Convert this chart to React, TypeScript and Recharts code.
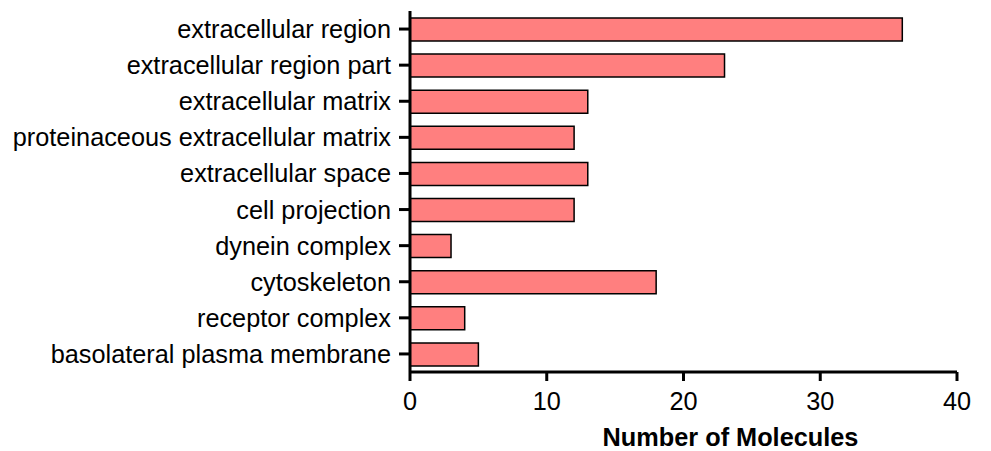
import React from "react";
import { BarChart, Bar, XAxis, YAxis, Label } from "recharts";

// GO cellular-component terms and the number of molecules annotated to each
const categories = [
  "extracellular region",
  "extracellular region part",
  "extracellular matrix",
  "proteinaceous extracellular matrix",
  "extracellular space",
  "cell projection",
  "dynein complex",
  "cytoskeleton",
  "receptor complex",
  "basolateral plasma membrane",
];
const moleculeCounts = [36, 23, 13, 12, 13, 12, 3, 18, 4, 5];
const xTicks = [0, 10, 20, 30, 40];
const xTitle = "Number of Molecules";

const data = categories.map((name, i) => ({ name, count: moleculeCounts[i] }));

const FONT = '"Liberation Sans", Arial, Helvetica, sans-serif';
const FONT_SIZE = 25.3;

export default function App() {
  return (
    <div style={{ position: "absolute", left: 0, top: 0, background: "#fff" }}>
      <BarChart
        width={991}
        height={451}
        data={data}
        layout="vertical"
        margin={{ top: 11, right: 34, bottom: 0, left: 0 }}
        barSize={23}
      >
        <XAxis
          type="number"
          domain={[0, 40]}
          ticks={xTicks}
          height={79}
          tickSize={9}
          tickMargin={11}
          axisLine={{ stroke: "#000", strokeWidth: 3 }}
          tickLine={{ stroke: "#000", strokeWidth: 3 }}
          tick={{ fill: "#000", fontSize: FONT_SIZE, fontFamily: FONT }}
        >
          <Label
            content={(props: any) => {
              const vb = props.viewBox;
              return (
                <text
                  x={vb.x + vb.width / 2 + 47}
                  y={vb.y + 74}
                  textAnchor="middle"
                  fontSize={FONT_SIZE}
                  fontWeight="bold"
                  fontFamily={FONT}
                  fill="#000"
                >
                  {xTitle}
                </text>
              );
            }}
          />
        </XAxis>
        <YAxis
          type="category"
          dataKey="name"
          width={410}
          interval={0}
          tickSize={11}
          tickMargin={8}
          axisLine={{ stroke: "#000", strokeWidth: 3 }}
          tickLine={{ stroke: "#000", strokeWidth: 3 }}
          tick={{ fill: "#000", fontSize: FONT_SIZE, fontFamily: FONT }}
        />
        <Bar
          dataKey="count"
          fill="#FF7F7F"
          stroke="#000"
          strokeWidth={1.5}
          isAnimationActive={false}
        />
      </BarChart>
    </div>
  );
}
